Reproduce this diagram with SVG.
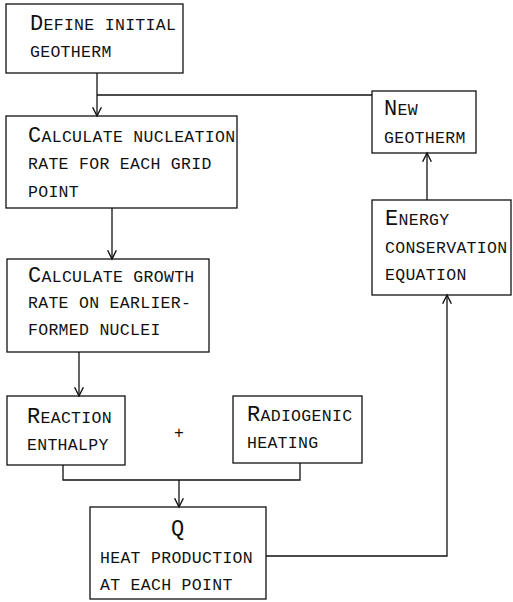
<svg xmlns="http://www.w3.org/2000/svg" width="513" height="602" viewBox="0 0 513 602">
<style>
.box{fill:none;stroke:#111;stroke-width:1.3}
.ln{fill:none;stroke:#111;stroke-width:1.3}
.t{font-family:"Liberation Mono","DejaVu Sans Mono",monospace;font-size:16.5px;letter-spacing:0.3px;fill:#111}
.b{font-size:22px}
</style>
<defs>
<marker id="ah" markerUnits="userSpaceOnUse" markerWidth="12" markerHeight="12" refX="8" refY="4" orient="auto" viewBox="-1 -1 11 10">
<path d="M0,0 L8,4 L0,8" fill="none" stroke="#111" stroke-width="1.3"/>
</marker>
</defs>
<rect width="513" height="602" fill="#fff"/>
<g id="connectors">
<line class="ln" x1="97" y1="73" x2="97" y2="116" marker-end="url(#ah)"/>
<polyline class="ln" points="372,95 97,95"/>
<line class="ln" x1="112" y1="208" x2="112" y2="259" marker-end="url(#ah)"/>
<line class="ln" x1="79" y1="352" x2="79" y2="396" marker-end="url(#ah)"/>
<polyline class="ln" points="63,465 63,480 300,480 300,463"/>
<line class="ln" x1="179" y1="480" x2="179" y2="507" marker-end="url(#ah)"/>
<polyline class="ln" points="266,556 447,556 447,295" marker-end="url(#ah)"/>
<line class="ln" x1="427" y1="200" x2="427" y2="153" marker-end="url(#ah)"/>
</g>
<g id="define">
<rect class="box" x="6" y="4" width="177" height="69"/>
<text class="t" x="30" y="30"><tspan class="b">D</tspan>EFINE INITIAL</text>
<text class="t" x="30" y="57">GEOTHERM</text>
</g>
<g id="nucleation">
<rect class="box" x="6" y="116" width="231" height="92"/>
<text class="t" x="28" y="142"><tspan class="b">C</tspan>ALCULATE NUCLEATION</text>
<text class="t" x="28" y="169">RATE FOR EACH GRID</text>
<text class="t" x="28" y="197">POINT</text>
</g>
<g id="growth">
<rect class="box" x="7" y="259" width="202" height="93"/>
<text class="t" x="28" y="282"><tspan class="b">C</tspan>ALCULATE GROWTH</text>
<text class="t" x="28" y="308">RATE ON EARLIER-</text>
<text class="t" x="28" y="335">FORMED NUCLEI</text>
</g>
<g id="reaction">
<rect class="box" x="7" y="396" width="118" height="69"/>
<text class="t" x="27" y="423"><tspan class="b">R</tspan>EACTION</text>
<text class="t" x="27" y="450">ENTHALPY</text>
</g>
<text class="t" x="174" y="438">+</text>
<g id="radiogenic">
<rect class="box" x="233" y="396" width="129" height="67"/>
<text class="t" x="247" y="421"><tspan class="b">R</tspan>ADIOGENIC</text>
<text class="t" x="247" y="448">HEATING</text>
</g>
<g id="heat">
<rect class="box" x="90" y="507" width="176" height="92"/>
<text class="t b" x="171" y="535">Q</text>
<text class="t" x="100" y="563">HEAT PRODUCTION</text>
<text class="t" x="100" y="590">AT EACH POINT</text>
</g>
<g id="newgeotherm">
<rect class="box" x="372" y="91" width="104" height="62"/>
<text class="t" x="384" y="115"><tspan class="b">N</tspan>EW</text>
<text class="t" x="384" y="143">GEOTHERM</text>
</g>
<g id="energy">
<rect class="box" x="372" y="200" width="139" height="95"/>
<text class="t" x="385" y="225"><tspan class="b">E</tspan>NERGY</text>
<text class="t" x="385" y="253">CONSERVATION</text>
<text class="t" x="385" y="280">EQUATION</text>
</g>
</svg>
